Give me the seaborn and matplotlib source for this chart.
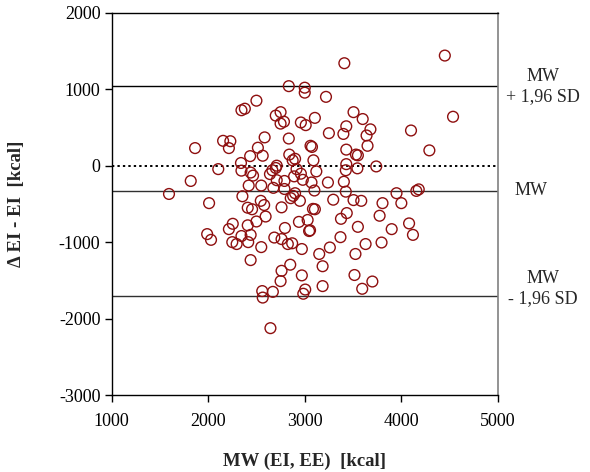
import numpy as np
import pandas as pd
import matplotlib
matplotlib.use("Agg")
import matplotlib.pyplot as plt
import seaborn as sns

# Mean of EI and EE (kcal)
mw = [4450, 3410, 2835, 3000, 3000, 3220, 2500, 2345, 2380, 2750,
      2700, 3505, 3600, 3105, 4535, 2785, 2750, 2960, 3010, 3430,
      3680, 4100, 3250, 3400, 3640, 2585, 2835, 2155, 2230, 2215,
      1865, 2515, 3060, 3075, 3650, 3430, 4290, 3530, 3550, 2435,
      2565, 2840, 2900, 2875, 3090, 2340, 3430, 3740, 2710, 2105,
      2345, 2465, 2440, 2665, 2640, 2915, 2960, 3120, 3425, 3545,
      2890, 2980, 1820, 2710, 2790, 3070, 3240, 3405, 2420, 2550,
      2675, 2790, 3100, 3425, 3950, 4155, 4180, 1595, 2355, 2700,
      2900, 2880, 2855, 2950, 2010, 3295, 3505, 3585, 3805, 4000,
      2545, 2580, 2410, 2455, 2760, 3085, 3105, 2595, 2500, 2410,
      2255, 2215, 2940, 3030, 3045, 3055, 2795, 3375, 3435, 3775,
      3550, 3900, 4080, 4120, 1990, 2030, 2345, 2440, 2250, 2295,
      2415, 2550, 2685, 2760, 2825, 2870, 2970, 3370, 3150, 3260,
      3525, 3630, 3795, 2440, 2850, 2760, 3185, 2970, 2750, 3515,
      3700, 3185, 3595, 3005, 2985, 2560, 2565, 2670, 2645]

# Difference EI - EE (kcal)
diff = [1440, 1340, 1040, 1020, 955, 900, 850, 725, 745, 700,
        655, 700, 610, 625, 640, 575, 550, 565, 530, 515,
        475, 460, 425, 415, 395, 370, 355, 325, 320, 230,
        230, 235, 260, 245, 260, 210, 200, 145, 135, 125,
        130, 145, 90, 70, 70, 35, 20, -10, 0, -45,
        -65, -130, -90, -60, -110, -45, -105, -75, -60, -35,
        -140, -185, -200, -190, -200, -220, -220, -210, -260, -260,
        -290, -305, -325, -340, -360, -330, -310, -370, -400, -30,
        -360, -395, -425, -460, -490, -445, -450, -460, -490, -490,
        -460, -515, -550, -570, -545, -565, -570, -665, -730, -780,
        -760, -830, -735, -710, -855, -845, -815, -695, -620, -655,
        -800, -830, -755, -905, -895, -970, -920, -905, -1000, -1025,
        -1000, -1065, -940, -960, -1025, -1015, -1090, -935, -1155, -1070,
        -1155, -1025, -1005, -1235, -1295, -1375, -1315, -1435, -1510, -1430,
        -1515, -1575, -1610, -1620, -1675, -1640, -1725, -1650, -2125]

mean_diff = -330
upper_loa = 1040
lower_loa = -1700

x_ticks = [1000, 2000, 3000, 4000, 5000]
y_ticks = [-3000, -2000, -1000, 0, 1000, 2000]

df = pd.DataFrame({"mw": mw, "diff": diff})

sns.set_style("white")
plt.rcParams["font.family"] = ["Liberation Serif", "DejaVu Serif"]
plt.rcParams["axes.unicode_minus"] = False

fig = plt.figure(figsize=(5.9, 4.72), dpi=100)
ax = fig.add_axes([0.189, 0.163, 0.655, 0.810])

edge = "#8e0f0f"
sns.scatterplot(data=df, x="mw", y="diff", ax=ax, marker="o", s=60,
                facecolors="none", edgecolor=edge, linewidth=1.0,
                zorder=3)
for c in ax.collections:
    c.set_facecolor("none")
    c.set_edgecolor(edge)

ax.axhline(0, color="black", lw=1.4, ls=(0, (1.2, 1.6)), zorder=2)
ax.axhline(mean_diff, color="#303030", lw=1.0, zorder=2)
ax.axhline(upper_loa, color="black", lw=1.0, zorder=2)
ax.axhline(lower_loa, color="#303030", lw=1.0, zorder=2)

ax.set_xlim(1000, 5000)
ax.set_ylim(-3000, 2000)
ax.set_xticks(x_ticks)
ax.set_yticks(y_ticks)
ax.set_xticklabels([str(v) for v in x_ticks])
ax.set_yticklabels([str(v) for v in y_ticks])
ax.tick_params(axis="both", direction="out", length=5, width=1,
               labelsize=13, colors="black", pad=3)
ax.tick_params(axis="x", bottom=True, top=False, pad=8)
ax.tick_params(axis="y", left=True, right=False)

for s in ["left", "bottom", "top"]:
    ax.spines[s].set_color("black")
    ax.spines[s].set_linewidth(1.0)
ax.spines["right"].set_color("#808080")
ax.spines["right"].set_linewidth(1.2)

ax.set_xlabel("MW (EI, EE)  [kcal]", fontsize=13.5, fontweight="bold", labelpad=16)
ax.set_ylabel("\u0394 EI - EI  [kcal]", fontsize=13.5, fontweight="bold", labelpad=24)

tr = ax.get_yaxis_transform()
ax.text(1.116, upper_loa, "MW\n+ 1,96 SD", transform=tr, ha="center", va="center",
        fontsize=13, linespacing=1.25, clip_on=False)
ax.text(1.085, mean_diff, "MW", transform=tr, ha="center", va="center",
        fontsize=13, clip_on=False)
ax.text(1.116, lower_loa + 90, "MW\n- 1,96 SD", transform=tr, ha="center", va="center",
        fontsize=13, linespacing=1.25, clip_on=False)

fig.savefig("out.png", dpi=100)
